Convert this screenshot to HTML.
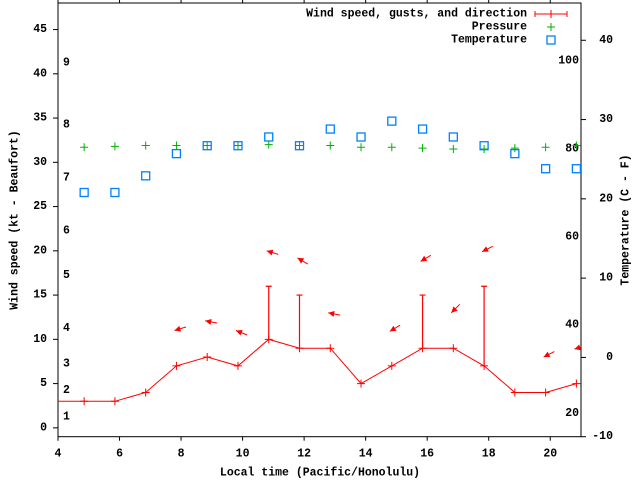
<!DOCTYPE html>
<html><head><meta charset="utf-8"><style>
body{margin:0;background:#fff}
svg{display:block}
text{font-family:"Liberation Mono",monospace;font-weight:bold;font-size:11.5px;fill:#000}
</style></head><body>
<svg id="chart" width="640" height="480" viewBox="0 0 640 480" xmlns="http://www.w3.org/2000/svg"></svg>
<script>
const times=[4.85,5.85,6.85,7.85,8.85,9.85,10.85,11.85,12.85,13.85,14.85,15.85,16.85,17.85,18.85,19.85,20.85];
const windKt=[3,3,4,7,8,7,10,9,9,5,7,9,9,7,4,4,5];
const gustTimes=[10.85,11.85,15.85,17.85];
const gustKt=[16,15,15,16];
const arrowTimes=[7.85,8.85,9.85,10.85,11.85,12.85,14.85,15.85,16.85,17.85,19.85,20.85];
const arrowKt=[11,12.1,11,20,19.2,13,10.9,18.8,13,19.9,8,8.9];
const arrowTailDeg=[-17,11,22,17,31,11,-31,-31,-45,-27,-27,-17];
const tempC=[20.8,20.8,22.9,25.7,26.7,26.7,27.8,26.7,28.8,27.8,29.8,28.8,27.8,26.7,25.7,23.8,23.8];
const pressure=[31.7,31.8,31.9,31.9,31.9,31.9,32.0,31.9,31.9,31.7,31.7,31.6,31.5,31.5,31.6,31.7,31.9];
const xTicks=[4,6,8,10,12,14,16,18,20];
const yTicks=[0,5,10,15,20,25,30,35,40,45];
const cTicks=[-10,0,10,20,30,40];
const fTicks=[20,40,60,80,100];
const beaufortKt=[1,4,7,11,17,22,28,34,41];
const beaufortLbl=["1","2","3","4","5","6","7","8","9"];

const L=58,R=581,T=3,B=436.7;
const X=t=>L+(t-4)/17*(R-L);
const Y=v=>B-(v+1)/49*(B-T);
const YC=c=>B-(c+10)/54.7*(B-T);
const svg=document.getElementById('chart');
const NS='http://www.w3.org/2000/svg';
function mk(tag,attrs,parent){const e=document.createElementNS(NS,tag);for(const k in attrs)e.setAttribute(k,attrs[k]);(parent||svg).appendChild(e);return e;}
function txt(x,y,s,anchor){const e=mk('text',{x:x,y:y,'text-anchor':anchor||'start','dominant-baseline':'central'});e.textContent=s;return e;}

// frame
const frame=mk('rect',{x:L,y:T,width:R-L,height:B-T,fill:'none',stroke:'#000','stroke-width':1});



xTicks.forEach(t=>{
  const l1=mk('line',{x1:X(t),x2:X(t),y1:B,y2:B+4,stroke:'#000'});
  
  
  const l2=mk('line',{x1:X(t),x2:X(t),y1:T,y2:T-4,stroke:'#000'});
  
  
  const e=txt(X(t),454,String(t),'middle');
  
  
});
yTicks.forEach(v=>{
  const l=mk('line',{x1:L-5,x2:L,y1:Y(v),y2:Y(v),stroke:'#000'});
  
  
  const e=txt(47,Y(v),String(v),'end');
  
  
});
cTicks.forEach(c=>{
  const l=mk('line',{x1:R,x2:R+5,y1:YC(c),y2:YC(c),stroke:'#000'});
  
  
  const e=txt(613,YC(c),String(c),'end');
  
  
});
fTicks.forEach(f=>{
  const e=txt(579,YC((f-32)/1.8)+3,String(f),'end');
  
  
});
beaufortKt.forEach((k,i)=>{
  const e=txt(63,Y(k)-2,beaufortLbl[i],'start');
  
  
});

// titles
let e=txt(320,473,'Local time (Pacific/Honolulu)','middle');


e=txt(0,0,'Wind speed (kt - Beaufort)','middle');
e.setAttribute('transform','translate(15,220) rotate(-90)');


e=txt(0,0,'Temperature (C - F)','middle');
e.setAttribute('transform','translate(626,220) rotate(-90)');



// clip
const defs=mk('defs',{});
const cp=mk('clipPath',{id:'clip'},defs);
mk('rect',{x:L,y:T,width:R-L,height:B-T},cp);
const g=mk('g',{'clip-path':'url(#clip)'});



function plus(x,y,c,name){
  const p=mk('path',{d:`M${x-4},${y}h8M${x},${y-4}v8`,stroke:c,'stroke-width':1,fill:'none'},g);
  
  
}
function sq(x,y,name){
  const r=mk('rect',{x:x-4,y:y-4,width:8,height:8,fill:'none',stroke:'#0080ff','stroke-width':1.3},g);
  
  
}

// pressure
times.forEach((t,i)=>plus(X(t),Y(pressure[i]),'#00b000','pressure-point'));
// temperature
times.forEach((t,i)=>sq(X(t),YC(tempC[i]),'temperature-point'));

// wind line
let d=`M${X(times[0]-1)},${Y(windKt[0])}`;
times.forEach((t,i)=>{d+=`L${X(t)},${Y(windKt[i])}`;});
const wl=mk('path',{d:d,stroke:'#f00','stroke-width':1,fill:'none'},g);


times.forEach((t,i)=>plus(X(t),Y(windKt[i]),'#f00','wind-speed-point'));

// gusts
gustTimes.forEach((t,i)=>{
  const wi=times.indexOf(t);
  const x=X(t);
  const gp=mk('path',{d:`M${x},${Y(windKt[wi])}V${Y(gustKt[i])}M${x-3},${Y(gustKt[i])}h6`,stroke:'#f00','stroke-width':1.2,fill:'none'},g);
  
  
});

// direction arrows
arrowTimes.forEach((t,i)=>{
  const x=X(t)-2,y=Y(arrowKt[i]);
  const a=arrowTailDeg[i]*Math.PI/180;
  const dx=Math.cos(a),dy=Math.sin(a);
  const grp=mk('g',{},g);
  
  
  mk('line',{x1:x,y1:y,x2:x+12*dx,y2:y+12*dy,stroke:'#f00','stroke-width':1},grp);
  const px=-dy,py=dx;
  mk('polygon',{points:`${x},${y} ${x+6*dx+3*px},${y+6*dy+3*py} ${x+6*dx-3*px},${y+6*dy-3*py}`,fill:'#f00'},grp);
});

// legend
const lg=mk('g',{});


[['Wind speed, gusts, and direction',14],['Pressure',27],['Temperature',40]].forEach(([s,y])=>{
  const t=txt(527,y,s,'end');lg.appendChild(t);
  
  
});
let ls=mk('path',{d:'M535,14h32M535,11v6M567,11v6M551,10v8',stroke:'#f00',fill:'none'},lg);


ls=mk('path',{d:'M547,27h8M551,23v8',stroke:'#00b000',fill:'none'},lg);


ls=mk('rect',{x:547,y:36,width:8,height:8,fill:'none',stroke:'#0080ff','stroke-width':1.3},lg);


</script>
</body></html>
